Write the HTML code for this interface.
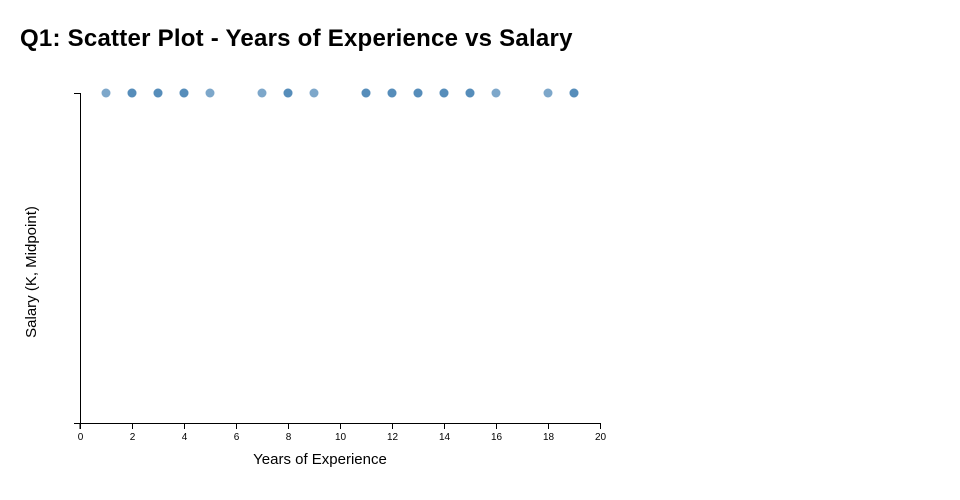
<!DOCTYPE html>
<html><head><meta charset="utf-8"><style>
body{margin:0;background:#fff;font-family:"Liberation Sans",sans-serif}
</style></head><body>
<svg width="960" height="500" style="display:block">
<text x="20" y="46" font-size="24" font-weight="bold" letter-spacing="0.24" fill="#000">Q1: Scatter Plot - Years of Experience vs Salary</text>
<g id="plot"></g>
<text x="320" y="464" font-size="15" text-anchor="middle" fill="#000">Years of Experience</text>
<text transform="translate(36,272) rotate(-90)" font-size="15" text-anchor="middle" fill="#000">Salary (K, Midpoint)</text>
</svg>
<script>
const years = [1,2,2,3,3,4,4,5,7,8,8,9,11,11,12,12,13,13,14,14,15,15,16,18,19,19];
const salaries = [100,100,100,100,100,100,100,100,100,100,100,100,100,100,100,100,100,100,100,100,100,100,100,100,100,100];
const xTicks = [0,2,4,6,8,10,12,14,16,18,20];
const ns = "http://www.w3.org/2000/svg";
const g = document.getElementById("plot");
const L=80,R=600,T=93,B=423;
const yMax = Math.max(...salaries);
const xs = v => L + (v-0)/(20-0)*(R-L);
const ys = v => B - v/yMax*(B-T);
function mk(tag, attrs){const e=document.createElementNS(ns,tag);for(const k in attrs)e.setAttribute(k,attrs[k]);g.appendChild(e);return e;}
let e = mk("path",{d:`M${L-6},${T+0.5}H${L+0.5}V${B+0.5}H${L-6}`,fill:"none",stroke:"#000"});


e = mk("path",{d:`M${L},${B+6}V${B+0.5}H${R+0.5}V${B+6}`,fill:"none",stroke:"#000"});


xTicks.forEach(t=>{
  const x=xs(t)+0.5;
  const l=mk("line",{x1:x,x2:x,y1:B,y2:B+6,stroke:"#000"});
  
  
  const tx=mk("text",{x:x,y:B+17,"font-size":"10","text-anchor":"middle",fill:"#000"});
  tx.textContent=t;
  
  
});
years.forEach((yr,i)=>{
  const c=mk("circle",{cx:xs(yr),cy:ys(salaries[i]),r:4.5,fill:"#4682b4","fill-opacity":0.7});
  
  
});
</script>
</body></html>
